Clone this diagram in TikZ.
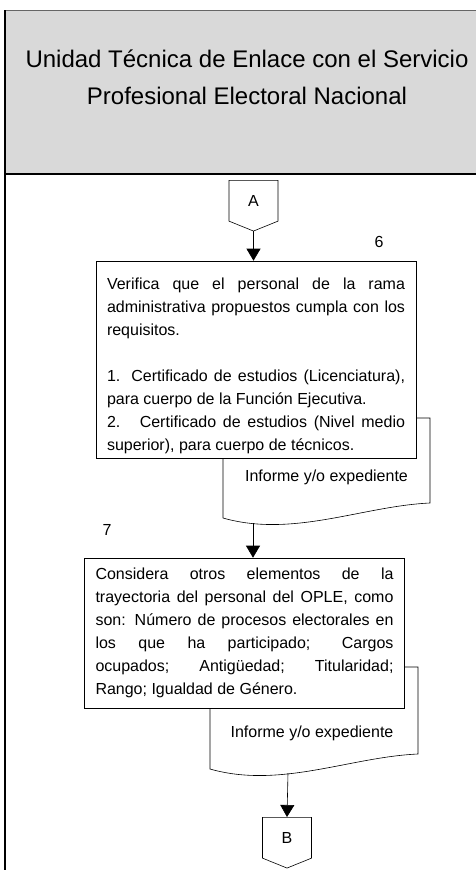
\documentclass[tikz,border=0pt]{standalone}
\usepackage{fontspec}
\setmainfont{Liberation Sans}
\usepackage{xcolor}
\usetikzlibrary{arrows.meta,shapes.symbols}
\definecolor{headgray}{RGB}{217,217,217}

\begin{document}
\begin{tikzpicture}[x=1pt,y=-1pt,
  procbox/.style={draw, fill=white, line width=0.6pt, text width=298pt,
    inner xsep=11pt, inner ysep=0pt, align=justify,
    font=\fontsize{16}{23}\selectfont},
  offpage/.style={draw, fill=white, line width=0.6pt, signal, signal to=south,
    signal from=nowhere, signal pointer angle=136, minimum width=49pt,
    minimum height=43pt, inner sep=0pt, font=\fontsize{16}{18}\selectfont},
  docshape/.style={draw, fill=white, line width=0.6pt},
  flow/.style={draw, line width=0.6pt, -{Triangle[width=14pt,length=12pt]}},
  plain/.style={font=\fontsize{16}{18}\selectfont, inner sep=0pt}]
  \useasboundingbox (0,0) rectangle (476,870);

  % encabezado
  \fill[headgray] (5,10) rectangle (476,174);
  \draw[black!60, line width=0.5pt] (5,10) -- (476,10);
  \draw[line width=1.2pt] (5,174) -- (476,174);
  \draw[line width=1.2pt] (5,10) -- (5,870);
  \node[font=\fontsize{24}{37}\selectfont, align=center] (title) at (247,77)
    {Unidad Técnica de Enlace con el Servicio\\Profesional Electoral Nacional};

  % conector A
  \node[offpage, anchor=north] (A) at (253.5,180) {A};
  \node[plain] (n6) at (379,242) {6};

  % documentos (detras de las cajas)
  \draw[docshape] (223,418) -- (223,518) .. controls (293,538) and (363,506) .. (430,503) -- (430,418) -- cycle;
  \node[plain] (inf1) at (326.5,477) {Informe y/o expediente};
  \coordinate (d1b) at (253,523);

  \draw[docshape] (210,667) -- (210,769) .. controls (280,789) and (350,757) .. (418,754) -- (418,667) -- cycle;
  \node[plain] (inf2) at (312,733) {Informe y/o expediente};
  \coordinate (d2b) at (288,773);

  % actividad 6
  \node[procbox, minimum height=197pt, text height=24pt] (box1) at (256,359.5)
    {Verifica que el personal de la rama\linebreak
     administrativa propuestos cumpla con los\linebreak
     requisitos.\\[23pt]
     1. Certificado de estudios (Licenciatura),\linebreak
     para cuerpo de la Función Ejecutiva.\\
     2.~ Certificado de estudios (Nivel medio\linebreak
     superior), para cuerpo de técnicos.};

  % actividad 7
  \node[plain] (n7) at (107,530) {7};
  \node[procbox, minimum height=150pt] (box2) at (244.5,633)
    {Considera otros elementos de la\linebreak
     trayectoria del personal del OPLE, como\linebreak
     son: Número de procesos electorales en\linebreak
     los que ha participado; Cargos\linebreak
     ocupados; Antigüedad; Titularidad;\linebreak
     Rango; Igualdad de Género.};

  % conector B
  \node[offpage, anchor=north] (B) at (287,817) {B};

  % flechas
  \draw[flow] (A.south) -- (A.south |- box1.north);
  \draw[flow] (d1b) -- (d1b |- box2.north);
  \draw[flow] (d2b) -- (B.north);
\end{tikzpicture}
\end{document}
